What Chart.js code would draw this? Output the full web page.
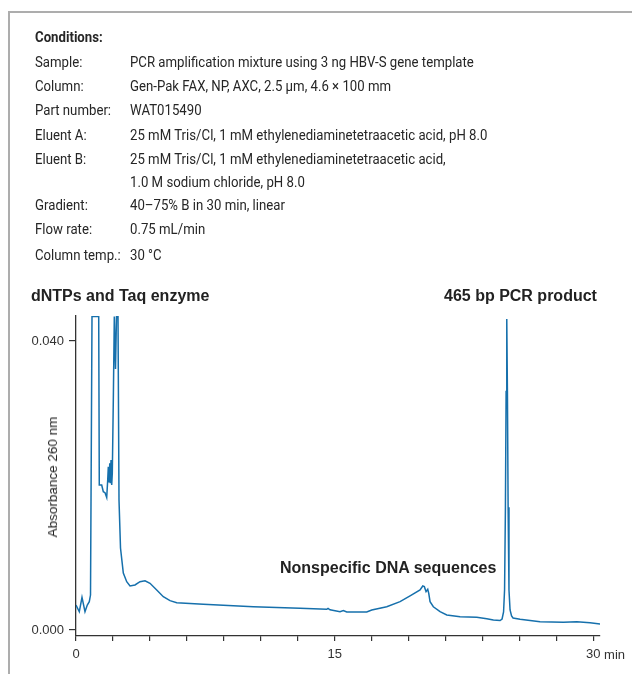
<!DOCTYPE html>
<html><head><meta charset="utf-8">
<script src="https://cdn.jsdelivr.net/npm/chart.js@4.4.1/dist/chart.umd.min.js"></script>
<style>
html,body{margin:0;padding:0;background:#fff;}
#page{position:relative;width:632px;height:674px;overflow:hidden;background:#fff;}
#frame{position:absolute;left:8px;top:11px;width:640px;height:700px;border-top:2px solid #adadad;border-left:2px solid #adadad;}
.c{position:absolute;font-family:"Roboto",sans-serif;font-size:15px;color:#262626;line-height:20px;white-space:nowrap;transform:scaleX(0.88);transform-origin:0 50%;}
.ann{position:absolute;font-family:"Liberation Sans",Arial,sans-serif;font-weight:bold;font-size:16px;color:#222;line-height:20px;white-space:nowrap;}
#chart{position:absolute;left:0;top:0;}
#ytitle{position:absolute;left:53px;top:477px;font-family:"Liberation Sans",Arial,sans-serif;font-size:13.5px;color:#222;line-height:16px;white-space:nowrap;transform:translate(-50%,-50%) rotate(-90deg);}
#minlbl{position:absolute;font-family:"Liberation Sans",Arial,sans-serif;font-size:13px;color:#333;line-height:16px;white-space:nowrap;}
</style></head>
<body>
<div id="page">
  <div id="frame"></div>
  <canvas id="chart" width="632" height="674"></canvas>
  <div id="cond"></div>
  <div class="ann" style="left:31px;top:286px;">dNTPs and Taq enzyme</div>
  <div class="ann" style="left:444px;top:286px;">465 bp PCR product</div>
  <div class="ann" style="left:280px;top:558px;">Nonspecific DNA sequences</div>
  <div id="ytitle">Absorbance 260 nm</div>
  <div id="minlbl">&nbsp;min</div>
</div>
<script>
// Conditions table
const condLabels = ["Sample:", "Column:", "Part number:", "Eluent A:", "Eluent B:", "", "Gradient:", "Flow rate:", "Column temp.:"];
const condValues = [
  "PCR amplification mixture using 3 ng HBV-S gene template",
  "Gen-Pak FAX, NP, AXC, 2.5 µm, 4.6 × 100 mm",
  "WAT015490",
  "25 mM Tris/Cl, 1 mM ethylenediaminetetraacetic acid, pH 8.0",
  "25 mM Tris/Cl, 1 mM ethylenediaminetetraacetic acid,",
  "1.0 M sodium chloride, pH 8.0",
  "40–75% B in 30 min, linear",
  "0.75 mL/min",
  "30 °C"
];
const condRowY = [62, 86, 110, 135, 159, 182, 205, 229, 255];

// Chromatogram trace (time in min, absorbance at 260 nm)
const timeMin = [
  0.000, 0.191, 0.348, 0.522, 0.655, 0.771, 0.841, 0.928, 1.317, 1.351,
  1.491, 1.584, 1.682, 1.781, 1.839, 1.874, 1.914, 1.955, 1.990, 2.030,
  2.071, 2.106, 2.164, 2.222, 2.291, 2.349, 2.436, 2.494, 2.581, 2.744,
  2.941, 3.132, 3.422, 3.712, 4.002, 4.292, 4.681, 5.064, 5.452, 5.841,
  7.384, 10.284, 12.993, 14.542, 14.617, 14.733, 15.313, 15.505, 15.702, 16.862,
  17.152, 18.022, 18.794, 19.374, 19.954, 20.110, 20.203, 20.302, 20.400, 20.458,
  20.534, 20.725, 21.114, 21.503, 22.274, 23.243, 23.823, 24.206, 24.594, 24.710,
  24.797, 24.855, 24.905, 24.945, 24.983, 25.021, 25.061, 25.111, 25.174, 25.261,
  25.348, 25.754, 26.914, 28.266, 29.043, 29.814, 30.394
];
const absorbance = [
  0.00346, 0.00253, 0.00453, 0.00253, 0.00346, 0.00392, 0.00484, 0.0434, 0.0434, 0.02007,
  0.02007, 0.01914, 0.01900, 0.01834, 0.02076, 0.02260, 0.02053, 0.02307, 0.02030, 0.02353,
  0.02007, 0.02173, 0.03183, 0.0434, 0.03612, 0.0434, 0.0434, 0.01799, 0.01135, 0.00789,
  0.00669, 0.00609, 0.00623, 0.00669, 0.00682, 0.00646, 0.00554, 0.00461, 0.00406, 0.00378,
  0.00356, 0.00322, 0.00300, 0.00287, 0.00300, 0.00280, 0.00253, 0.00270, 0.00249, 0.00249,
  0.00277, 0.00322, 0.00392, 0.00471, 0.00554, 0.00609, 0.00600, 0.00530, 0.00563, 0.00508,
  0.00392, 0.00322, 0.00253, 0.00208, 0.00184, 0.00176, 0.00156, 0.00138, 0.00131, 0.00152,
  0.00249, 0.00554, 0.01700, 0.03300, 0.04304, 0.03300, 0.01700, 0.00554, 0.00277, 0.00194,
  0.00166, 0.00148, 0.00115, 0.00107, 0.00113, 0.00101, 0.00083
];

const xTickValues = [0, 2.1429, 4.2857, 6.4286, 8.5714, 10.7143, 12.8571, 15, 17.1429, 19.2857, 21.4286, 23.5714, 25.7143, 27.8571, 30];
const xTickLabels = ["0", "", "", "", "", "", "", "15", "", "", "", "", "", "", "30"];
const yTickValues = [0, 0.04];
const yTickLabels = ["0.000", "0.040"];

// build conditions text
const cond = document.getElementById('cond');
function addText(txt, x, yc, bold) {
  const d = document.createElement('div');
  d.className = 'c';
  d.style.left = x + 'px';
  d.style.top = (yc - 10) + 'px';
  if (bold) d.style.fontWeight = 'bold';
  d.textContent = txt;
  cond.appendChild(d);
}
addText("Conditions:", 35, 37, true);
condLabels.forEach((l, i) => { if (l) addText(l, 35, condRowY[i], false); });
condValues.forEach((v, i) => addText(v, 130, condRowY[i], false));

const FONT = '"Liberation Sans", Arial, sans-serif';
const minPlugin = {
  id: 'minlbl',
  afterDraw(chart) {
    const xs = chart.scales.x;
    const px = xs.getPixelForValue(30);
    const ctx = chart.ctx;
    ctx.save();
    ctx.font = '13px ' + FONT;
    const w = ctx.measureText('30').width;
    ctx.restore();
    const el = document.getElementById('minlbl');
    el.style.left = (px + w / 2) + 'px';
    el.style.top = (xs.top + 5 + 6) + 'px';
  }
};

new Chart(document.getElementById('chart'), {
  type: 'line',
  data: {
    datasets: [{
      data: timeMin.map((t, i) => ({ x: t, y: absorbance[i] })),
      borderColor: '#1670ac',
      borderWidth: 1.5,
      pointRadius: 0,
      tension: 0,
      fill: false
    }]
  },
  options: {
    responsive: false,
    animation: false,
    devicePixelRatio: 1,
    layout: { padding: { left: 0, right: 32, top: 316, bottom: 8 } },
    plugins: { legend: { display: false }, tooltip: { enabled: false } },
    scales: {
      x: {
        type: 'linear',
        min: 0,
        max: 30.39,
        afterFit(s) { s.height = 30; },
        afterBuildTicks(s) { s.ticks = xTickValues.map(v => ({ value: v })); },
        border: { display: true, color: '#333', width: 1.3 },
        grid: { display: true, drawOnChartArea: false, drawTicks: true, tickLength: 5, color: '#333', lineWidth: 1.2 },
        ticks: {
          autoSkip: false, maxRotation: 0, padding: 6, color: '#333',
          font: { family: FONT, size: 13 },
          callback(v, i) { return xTickLabels[i]; }
        }
      },
      y: {
        type: 'linear',
        min: -0.00083,
        max: 0.04346,
        afterFit(s) { s.width = 76; },
        afterBuildTicks(s) { s.ticks = yTickValues.map(v => ({ value: v })); },
        border: { display: true, color: '#333', width: 1.3 },
        grid: { display: true, drawOnChartArea: false, drawTicks: true, tickLength: 7, color: '#333', lineWidth: 1.2 },
        ticks: {
          padding: 5, color: '#333',
          font: { family: FONT, size: 13 },
          callback(v, i) { return yTickLabels[i]; }
        }
      }
    }
  },
  plugins: [minPlugin]
});
</script>
</body></html>
